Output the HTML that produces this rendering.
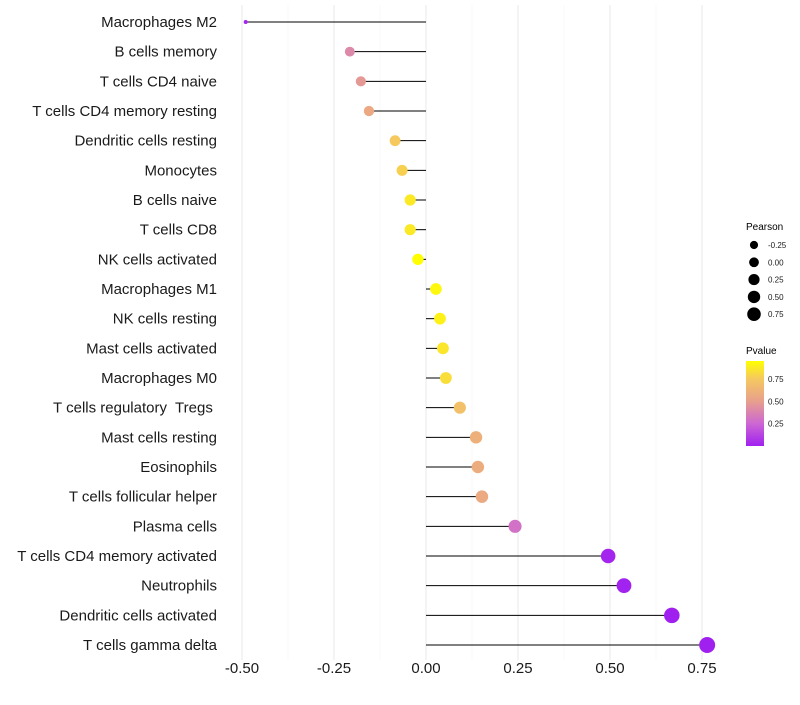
<!DOCTYPE html>
<html><head><meta charset="utf-8"><style>
body{margin:0;background:#fff;font-family:"Liberation Sans",sans-serif}
text{white-space:pre}
</style></head><body>
<svg id="chart" width="800" height="700" xmlns="http://www.w3.org/2000/svg">
<defs><linearGradient id="pg" x1="0" y1="1" x2="0" y2="0">
<stop offset="0" stop-color="#a020f0"/><stop offset="0.26" stop-color="#cc66d4"/><stop offset="0.53" stop-color="#e8a08c"/><stop offset="0.79" stop-color="#f5c860"/><stop offset="1" stop-color="#ffff00"/></linearGradient></defs>
<g id="grid"></g><g id="marks"></g><g id="ylab"></g><g id="xlab"></g><g id="legend"></g>
</svg>
<script>
const categories=["Macrophages M2","B cells memory","T cells CD4 naive","T cells CD4 memory resting","Dendritic cells resting","Monocytes","B cells naive","T cells CD8","NK cells activated","Macrophages M1","NK cells resting","Mast cells activated","Macrophages M0","T cells regulatory  Tregs ","Mast cells resting","Eosinophils","T cells follicular helper","Plasma cells","T cells CD4 memory activated","Neutrophils","Dendritic cells activated","T cells gamma delta"];
const pearson=[-0.49,-0.207,-0.177,-0.155,-0.084,-0.065,-0.043,-0.043,-0.022,0.027,0.038,0.046,0.054,0.092,0.136,0.141,0.152,0.242,0.495,0.538,0.668,0.764];
const pvalue=[0.02,0.4,0.47,0.55,0.75,0.78,0.87,0.87,0.95,0.92,0.9,0.86,0.83,0.7,0.6,0.58,0.56,0.3,0.02,0.01,0.001,0.0001];
const xTicks=[-0.5,-0.25,0,0.25,0.5,0.75];
const xTickLabels=["-0.50","-0.25","0.00","0.25","0.50","0.75"];
const sizeLegend=[-0.25,0,0.25,0.5,0.75];
const sizeLegendLabels=["-0.25","0.00","0.25","0.50","0.75"];
const colorTicks=[0.25,0.5,0.75];

const NS="http://www.w3.org/2000/svg";
const X=v=>426+v*368;
const Y=i=>22+i*29.667;
const R=v=>v<-0.4?2:Math.sqrt(33+40.6*v);
const stops=[[0,[160,32,240]],[0.25,[204,102,212]],[0.5,[232,160,140]],[0.75,[245,200,96]],[0.95,[255,255,0]]];
function col(p){for(let k=1;k<stops.length;k++){if(p<=stops[k][0]||k==stops.length-1){const a=stops[k-1],b=stops[k];let t=Math.min(1,Math.max(0,(p-a[0])/(b[0]-a[0])));return "rgb("+a[1].map((c,j)=>Math.round(c+(b[1][j]-c)*t)).join(",")+")";}}}
function mk(tag,attrs,parent){const e=document.createElementNS(NS,tag);for(const k in attrs)e.setAttribute(k,attrs[k]);document.getElementById(parent).appendChild(e);return e;}
for(let v=-0.5;v<=0.8;v+=0.125){
 const major=Math.abs((v*4)%1)<0.01;
 const g=mk("line",{x1:X(v),x2:X(v),y1:5,y2:660,stroke:major?"#ebebeb":"#f3f3f3","stroke-width":major?1.1:0.6},"grid");
 
 
}
categories.forEach((c,i)=>{
 const y=Y(i);
 const s=mk("line",{x1:X(0),x2:X(pearson[i]),y1:y,y2:y,stroke:"#000","stroke-width":1},"marks");
 
 
 const p=mk("circle",{cx:X(pearson[i]),cy:y,r:R(pearson[i]),fill:col(pvalue[i])},"marks");
 
 
 const t=mk("text",{x:217,y:y+5,"text-anchor":"end","font-size":15,fill:"#1a1a1a"},"ylab");
 t.textContent=c;
 
 
});
xTicks.forEach((v,i)=>{
 const t=mk("text",{x:X(v),y:673,"text-anchor":"middle","font-size":15,fill:"#1a1a1a"},"xlab");
 t.textContent=xTickLabels[i];
 
 
});
let t=mk("text",{x:746,y:230,"font-size":10,fill:"#000"},"legend");t.textContent="Pearson";


sizeLegend.forEach((v,i)=>{
 const y=245+i*17.3;
 const c=mk("circle",{cx:754,cy:y,r:R(v)*0.85,fill:"#000"},"legend");
 
 
 const l=mk("text",{x:768,y:y+3,"font-size":8,fill:"#1a1a1a"},"legend");l.textContent=sizeLegendLabels[i];
 
 
});
t=mk("text",{x:746,y:354,"font-size":10,fill:"#000"},"legend");t.textContent="Pvalue";


const bar=mk("rect",{x:746,y:361,width:18,height:85,fill:"url(#pg)"},"legend");


colorTicks.forEach(v=>{
 const y=446-v*89.5;
 const l=mk("text",{x:768,y:y+3,"font-size":8,fill:"#1a1a1a"},"legend");l.textContent=v.toFixed(2);
 
 
});
</script>
</body></html>
